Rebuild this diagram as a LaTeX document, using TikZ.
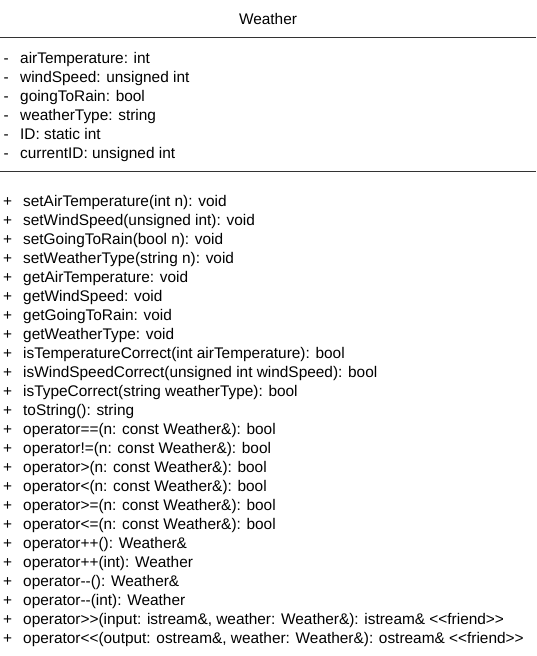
\documentclass[tikz,border=0pt]{standalone}
\usepackage{fontspec}
\setmainfont{Liberation Sans}
\begin{document}
\begin{tikzpicture}[x=1pt,y=-1pt,
  txt/.style={anchor=base west,inner sep=0pt,font=\fontsize{15.4}{19}\selectfont,text=black},
  vis/.style={anchor=base west,inner sep=0pt,font=\fontsize{15.4}{19}\selectfont,text=black},
  sep/.style={draw=black!80,line width=1pt}]
\useasboundingbox (0,0) rectangle (536,656);
\node[txt,anchor=base] (title) at (268,24) {Weather};
\coordinate (l1a) at (0,37); \coordinate (l1b) at (536,37);
\draw[sep] (l1a) -- (l1b);
\coordinate (l2a) at (0,171.5); \coordinate (l2b) at (536,171.5);
\draw[sep] (l2a) -- (l2b);
% attributes
\foreach \t [count=\i from 0] in {airTemperature: int,windSpeed: unsigned int,goingToRain: bool,weatherType: string,ID: static int,currentID: unsigned int}{
  \node[vis] (am\i) at (3.5,63+19*\i) {-};
  \node[txt] (a\i) at (20,63+19*\i) {\t};
}
% methods
\foreach \t [count=\i from 0] in {
 setAirTemperature(int n): void,
 setWindSpeed(unsigned int): void,
 setGoingToRain(bool n): void,
 setWeatherType(string n): void,
 getAirTemperature: void,
 getWindSpeed: void,
 getGoingToRain: void,
 getWeatherType: void,
 isTemperatureCorrect(int airTemperature): bool,
 isWindSpeedCorrect(unsigned int windSpeed): bool,
 isTypeCorrect(string weatherType): bool,
 toString(): string,
 operator==(n: const Weather\&): bool,
 operator!=(n: const Weather\&): bool,
 operator>(n: const Weather\&): bool,
 operator<(n: const Weather\&): bool,
 operator>=(n: const Weather\&): bool,
 operator<=(n: const Weather\&): bool,
 operator+{}+(): Weather\&,
 operator+{}+(int): Weather,
 operator-{}-(): Weather\&,
 operator-{}-(int): Weather,
 {operator>{}>(input: istream\&{,} weather: Weather\&): istream\& <{}<friend>{}>},
 {operator<{}<(output: ostream\&{,} weather: Weather\&): ostream\& <{}<friend>{}>}}{
  \node[vis] (pm\i) at (3,206+19*\i) {+};
  \node[txt] (m\i) at (23,206+19*\i) {\t};
}
\end{tikzpicture}
\end{document}
